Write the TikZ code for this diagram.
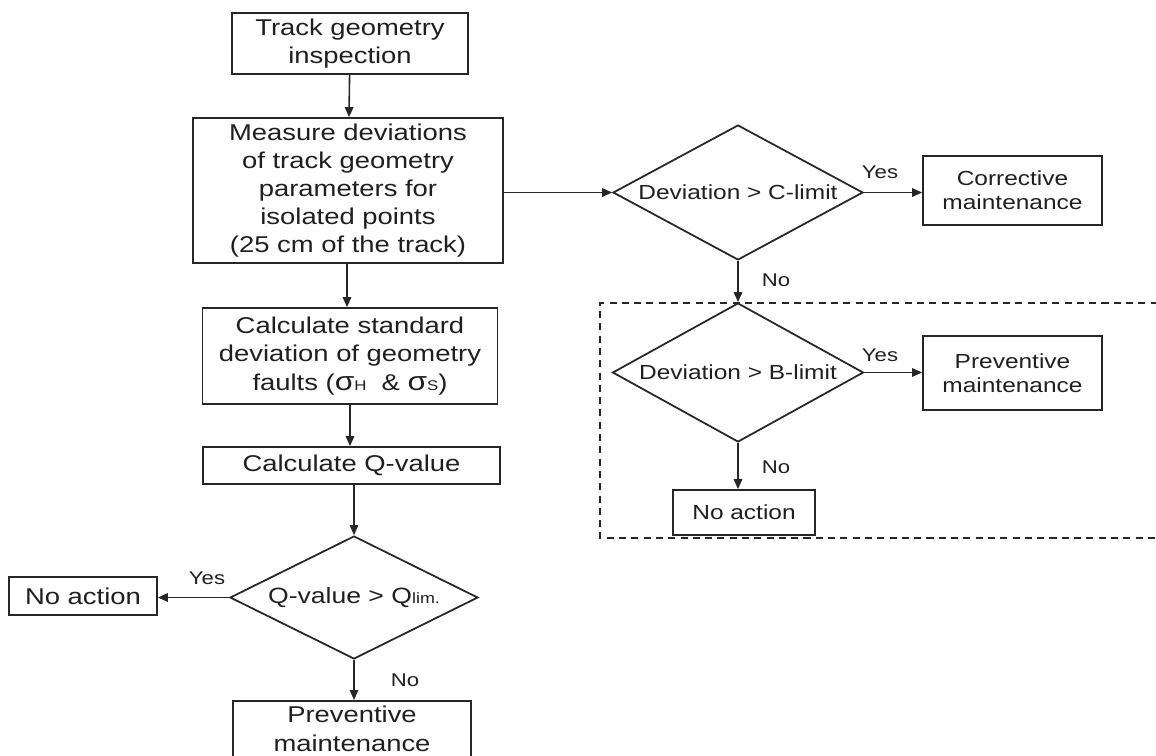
\documentclass[tikz,border=0pt]{standalone}
\usepackage{fontspec}
\setmainfont[FakeStretch=1.2]{Liberation Sans}
\usetikzlibrary{shapes.geometric,arrows.meta,calc}
\tikzset{
  base/.style={draw=black!85, line width=1pt, text=black!88, align=center, inner sep=1pt},
  lbox/.style={base, rectangle, font=\fontsize{13}{16}\selectfont},
  rbox/.style={base, rectangle, font=\fontsize{11.6}{13.8}\selectfont},
  dec/.style={base, diamond, aspect=2, inner sep=0pt, font=\fontsize{11.6}{13.8}\selectfont},
  conn/.style={draw=black!85, line width=0.9pt, -{Triangle[length=2mm,width=1.7mm]}},
  lab/.style={text=black!88, font=\fontsize{10.5}{12}\selectfont, inner sep=0pt},
  ltext/.style={text=black!88, align=center, inner sep=0pt, font=\fontsize{13}{16}\selectfont},
  frame/.style={draw=black!85, line width=0.8pt, dash pattern=on 4pt off 3pt}
}
\begin{document}
\begin{tikzpicture}[x=0.02cm,y=-0.02cm]
\useasboundingbox (0,0) rectangle (1156,755);
\clip (0,0) rectangle (1156,755);
% left column
\node[lbox, minimum width=4.72cm, minimum height=1.22cm] (track) at (350,43.5) {Track geometry\\inspection};
\node[lbox, minimum width=6.2cm, minimum height=2.9cm] (meas) at (348,190.5) {Measure deviations\\of track geometry\\parameters for\\isolated points\\(25 cm of the track)};
\node[lbox, minimum width=5.9cm, minimum height=1.92cm] (std) at (350,356) {Calculate standard\\deviation of geometry\\faults ({\fontsize{15}{15}\selectfont σ}{\fontsize{8}{8}\selectfont H}\ \ \& {\fontsize{15}{15}\selectfont σ}{\fontsize{8}{8}\selectfont S})};
\node[lbox, minimum width=5.94cm, minimum height=0.74cm] (qval) at (351.5,465.5) {Calculate Q-value};
\node[dec, minimum width=4.96cm, minimum height=2.46cm, font=\fontsize{12.6}{15}\selectfont] (dq) at (354,597.5) {Q-value > Q{\fontsize{8.5}{8.5}\selectfont lim.}};
\node[lbox, minimum width=2.96cm, minimum height=0.76cm] (nal) at (83,596) {No action};
\node[lbox, anchor=north, minimum width=4.76cm, minimum height=1.5cm] (prevb) at (352,700) {};
\node[ltext, anchor=north] (prevbt) at (352,706) {Preventive\\maintenance};
% right part
\node[dec, minimum width=5.0cm, minimum height=2.7cm] (dc) at (738,192.5) {Deviation > C-limit};
\node[rbox, minimum width=3.58cm, minimum height=1.38cm] (corr) at (1012.5,190.5) {Corrective\\maintenance};
\node[dec, minimum width=5.02cm, minimum height=2.78cm] (db) at (738,372.5) {Deviation > B-limit};
\node[rbox, minimum width=3.58cm, minimum height=1.48cm] (prevr) at (1012.5,373) {Preventive\\maintenance};
\node[rbox, minimum width=2.84cm, minimum height=0.9cm] (nar) at (744,512.5) {No action};
% dashed frame (right side beyond picture)
\coordinate (f1) at (1170,303);
\coordinate (f2) at (600,303);
\coordinate (f3) at (600,538);
\coordinate (f4) at (1170,538);
\draw[frame] (f1) -- (f2) -- (f3) -- (f4);
% connectors
\draw[conn] (track) -- (meas);
\draw[conn] (dc.west -| meas.east) -- (dc.west);
\draw[conn] (dc.east) -- (dc.east -| corr.west);
\draw[conn] (dc.south) -- (db.north);
\draw[conn] (db.east) -- (db.east -| prevr.west);
\draw[conn] (db.south) -- (db.south |- nar.north);
\draw[conn] (meas.south -| 347,0) -- (std.north -| 347,0);
\draw[conn] (std.south) -- (std.south |- qval.north);
\draw[conn] (qval.south -| dq.north) -- (dq.north);
\draw[conn] (dq.west) -- (dq.west -| nal.east);
\draw[conn] (dq.south) -- (dq.south |- prevb.north);
% labels
\node[lab] (y1) at (880,172) {Yes};
\node[lab] (n1) at (776,280) {No};
\node[lab] (y2) at (880,355) {Yes};
\node[lab] (n2) at (776,467) {No};
\node[lab] (y3) at (207,578) {Yes};
\node[lab] (n3) at (405,680) {No};
\end{tikzpicture}
\end{document}
